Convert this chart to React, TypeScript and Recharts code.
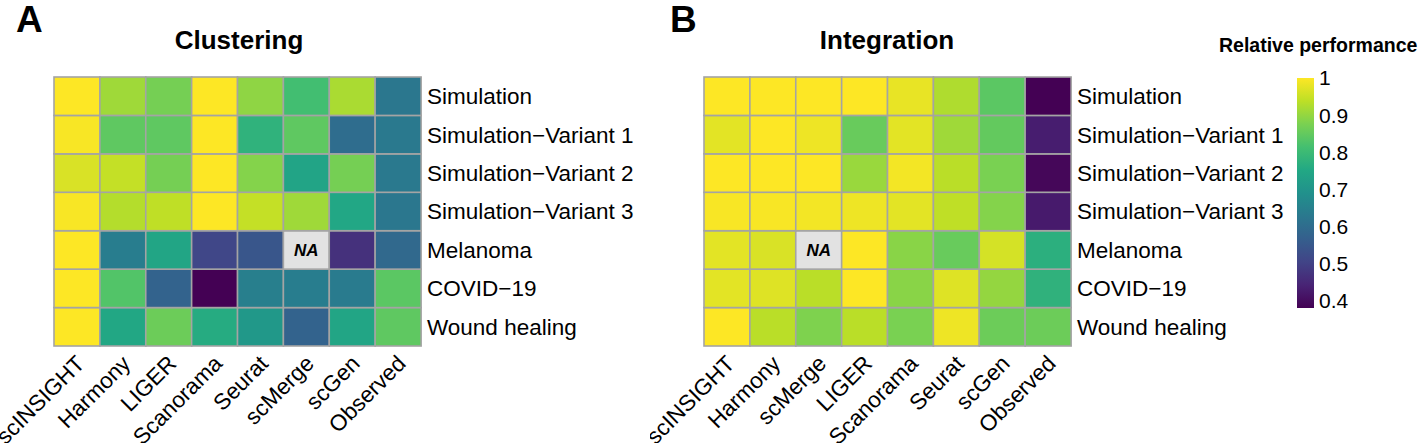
import React from 'react';
import { BarChart, Bar, XAxis, YAxis } from 'recharts';

const datasets = [
  'Simulation',
  'Simulation\u2212Variant 1',
  'Simulation\u2212Variant 2',
  'Simulation\u2212Variant 3',
  'Melanoma',
  'COVID\u221219',
  'Wound healing',
];

const clusteringMethods = ['scINSIGHT', 'Harmony', 'LIGER', 'Scanorama', 'Seurat', 'scMerge', 'scGen', 'Observed'];
const integrationMethods = ['scINSIGHT', 'Harmony', 'scMerge', 'LIGER', 'Scanorama', 'Seurat', 'scGen', 'Observed'];

// rows follow datasets, columns follow the method list of each panel
const clusteringValues: (number | null)[][] = [
  [1.0, 0.91, 0.87, 1.0, 0.895, 0.81, 0.92, 0.625],
  [0.995, 0.845, 0.845, 1.0, 0.778, 0.845, 0.6, 0.63],
  [0.965, 0.945, 0.87, 1.0, 0.885, 0.74, 0.87, 0.63],
  [0.995, 0.93, 0.94, 1.0, 0.945, 0.91, 0.748, 0.625],
  [1.0, 0.64, 0.745, 0.51, 0.545, null, 0.467, 0.59],
  [1.0, 0.83, 0.575, 0.38, 0.645, 0.64, 0.635, 0.84],
  [1.0, 0.75, 0.86, 0.76, 0.71, 0.575, 0.745, 0.845],
];

const integrationValues: (number | null)[][] = [
  [1.0, 1.0, 1.0, 1.0, 0.98, 0.925, 0.84, 0.38],
  [0.975, 1.0, 0.985, 0.855, 0.975, 0.91, 0.85, 0.43],
  [1.0, 1.0, 1.0, 0.905, 0.99, 0.935, 0.875, 0.39],
  [0.995, 0.995, 0.99, 0.985, 0.975, 0.94, 0.885, 0.425],
  [0.975, 0.965, null, 1.0, 0.89, 0.855, 0.96, 0.77],
  [0.975, 0.97, 0.935, 1.0, 0.89, 0.97, 0.9, 0.777],
  [1.0, 0.935, 0.88, 0.935, 0.875, 0.985, 0.86, 0.86],
];

const scaleMin = 0.38;
const scaleMax = 1.0;
const legendTicks = [0.4, 0.5, 0.6, 0.7, 0.8, 0.9, 1.0];

const viridis = ['#440154', '#482475', '#414487', '#355f8d', '#2a788e', '#21918c', '#22a884', '#44bf70', '#7ad151', '#bddf26', '#fde725'];

const hexToRgb = (h: string) => [1, 3, 5].map((i) => parseInt(h.slice(i, i + 2), 16));

const colorFor = (v: number) => {
  let t = (v - scaleMin) / (scaleMax - scaleMin);
  t = Math.max(0, Math.min(1, t));
  const pos = t * (viridis.length - 1);
  const i = Math.min(Math.floor(pos), viridis.length - 2);
  const f = pos - i;
  const a = hexToRgb(viridis[i]);
  const b = hexToRgb(viridis[i + 1]);
  const c = a.map((x, k) => Math.round(x + (b[k] - x) * f));
  return `rgb(${c[0]},${c[1]},${c[2]})`;
};

const FONT = '"Liberation Sans", Arial, Helvetica, sans-serif';
const GRID = '#a4a4a4';

const buildRows = (methods: string[]) =>
  methods.map((m) => {
    const row: any = { name: m };
    datasets.forEach((_, r) => (row[`r${r}`] = 1));
    return row;
  });

const XTick = (props: any) => {
  const { x, y, payload } = props;
  const ax = x + 9;
  const ay = y + 19;
  return (
    <text x={ax} y={ay} transform={`rotate(-45 ${ax} ${ay})`} textAnchor="end" fontSize={22.5} fill="#000">
      {payload.value}
    </text>
  );
};

const Heatmap = ({ methods, values, left }: { methods: string[]; values: (number | null)[][]; left: number }) => {
  const data = buildRows(methods);
  // bottom row first so Simulation ends up on top
  const order = datasets.map((_, i) => datasets.length - 1 - i);
  return (
    <div style={{ position: 'absolute', left, top: 0 }}>
      <BarChart width={680} height={443} data={data} margin={{ top: 77, right: 0, bottom: 0, left: 54 }} barCategoryGap={0} barGap={0}>
        <XAxis dataKey="name" type="category" interval={0} height={97} tickLine={false} axisLine={false} tickSize={0} tickMargin={0} tick={<XTick />} />
        <YAxis
          type="number"
          orientation="right"
          domain={[0, datasets.length]}
          ticks={datasets.map((_, i) => i + 0.5)}
          tickFormatter={(v: number) => datasets[datasets.length - 1 - Math.floor(v)]}
          width={259}
          tickLine={false}
          axisLine={false}
          tickSize={0}
          tickMargin={6}
          interval={0}
          tick={{ fontSize: 22.5, fill: '#000' }}
        />
        {order.map((r) => (
          <Bar
            key={r}
            dataKey={`r${r}`}
            stackId="a"
            isAnimationActive={false}
            shape={(p: any) => {
              const col = methods.indexOf(p.payload.name);
              const v = values[r][col];
              return (
                <g>
                  <rect x={p.x} y={p.y} width={p.width} height={p.height} fill={v == null ? '#e2e2e2' : colorFor(v)} stroke={GRID} strokeWidth={1.6} />
                  {v == null && (
                    <text x={p.x + p.width / 2} y={p.y + p.height / 2} dy="0.36em" textAnchor="middle" fontSize={17} fontWeight="bold" fontStyle="italic" fill="#000">
                      NA
                    </text>
                  )}
                </g>
              );
            }}
          />
        ))}
      </BarChart>
    </div>
  );
};

const ColorBar = () => {
  const data = [{ name: 'scale', range: [scaleMin, scaleMax] }];
  const n = viridis.length;
  return (
    <div style={{ position: 'absolute', left: 1287, top: 0 }}>
      <BarChart width={131} height={443} data={data} margin={{ top: 78, right: 0, bottom: 135, left: 10 }} barCategoryGap={0}>
        <defs>
          <linearGradient id="viridisGrad" x1="0" y1="0" x2="0" y2="1">
            {viridis.map((_, i) => (
              <stop key={i} offset={`${(i / (n - 1)) * 100}%`} stopColor={viridis[n - 1 - i]} />
            ))}
          </linearGradient>
        </defs>
        <XAxis dataKey="name" hide />
        <YAxis
          type="number"
          orientation="right"
          domain={[scaleMin, scaleMax]}
          ticks={legendTicks}
          tickFormatter={(v: number) => String(Number(v.toFixed(1)))}
          width={104}
          tickLine={false}
          axisLine={false}
          tickSize={0}
          tickMargin={5}
          interval={0}
          allowDataOverflow
          tick={{ fontSize: 21, fill: '#000' }}
        />
        <Bar dataKey="range" fill="url(#viridisGrad)" isAnimationActive={false} />
      </BarChart>
    </div>
  );
};

export default function App() {
  return (
    <div style={{ position: 'absolute', left: 0, top: 0, width: 1418, height: 443, background: '#fff', overflow: 'hidden', fontFamily: FONT }}>
      <svg width={1418} height={443} style={{ position: 'absolute', left: 0, top: 0 }}>
        <text x={16} y={32} fontSize={37} fontWeight="bold" fill="#000">A</text>
        <text x={670} y={32} fontSize={37} fontWeight="bold" fill="#000">B</text>
        <text x={239} y={49} fontSize={26} fontWeight="bold" textAnchor="middle" fill="#000">Clustering</text>
        <text x={887} y={49} fontSize={26} fontWeight="bold" textAnchor="middle" fill="#000">Integration</text>
        <text x={1219} y={52} fontSize={19.5} fontWeight="bold" fill="#000">Relative performance</text>
      </svg>
      <Heatmap methods={clusteringMethods} values={clusteringValues} left={0} />
      <Heatmap methods={integrationMethods} values={integrationValues} left={650} />
      <ColorBar />
    </div>
  );
}
